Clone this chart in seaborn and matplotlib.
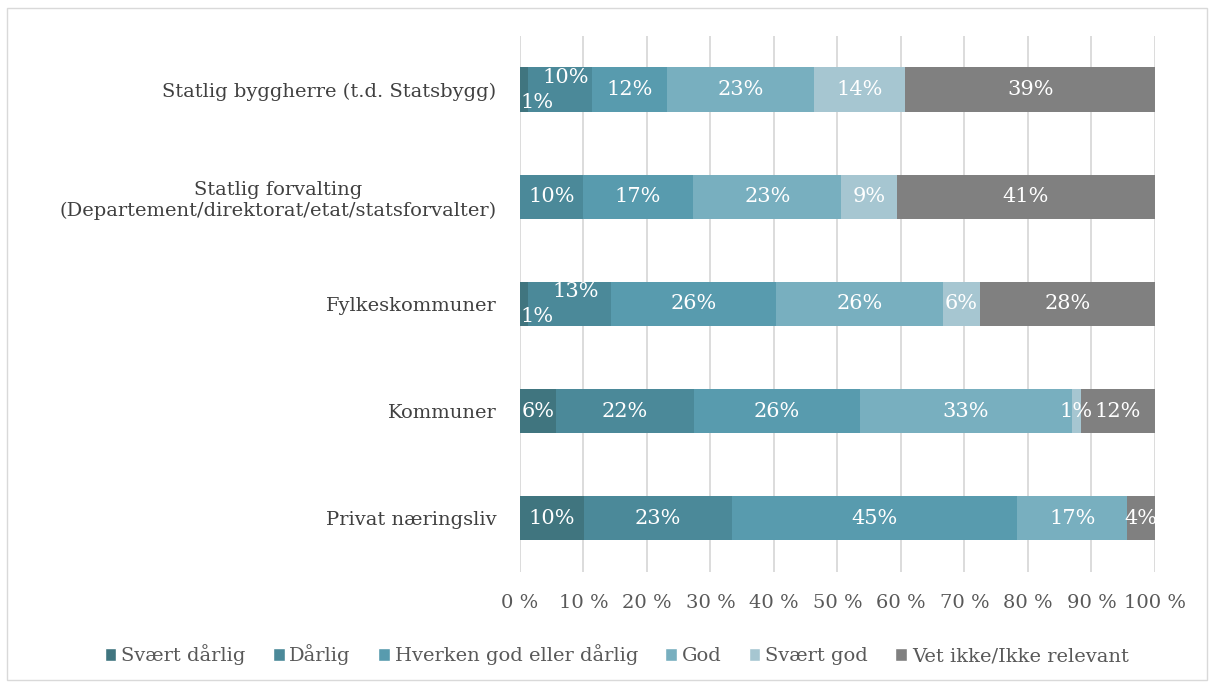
import numpy as np
import pandas as pd
import matplotlib
matplotlib.use("Agg")
import matplotlib.pyplot as plt
from matplotlib.patches import Patch, Rectangle
import seaborn as sns

# Data (shares in %)
categories = [
    "Statlig byggherre (t.d. Statsbygg)",
    "Statlig forvalting\n(Departement/direktorat/etat/statsforvalter)",
    "Fylkeskommuner",
    "Kommuner",
    "Privat næringsliv",
]
series = ["Svært dårlig", "Dårlig", "Hverken god eller dårlig", "God", "Svært god",
          "Vet ikke/Ikke relevant"]
svaert_darlig = [1.2, 0.0, 1.2, 5.7, 10.1]
darlig = [10.1, 9.9, 13.1, 21.7, 23.3]
hverken = [11.8, 17.4, 26.0, 26.1, 44.9]
god = [23.2, 23.3, 26.3, 33.4, 17.3]
svaert_god = [14.4, 8.7, 5.8, 1.4, 0.0]
vet_ikke = [39.3, 40.7, 27.6, 11.7, 4.4]
xtick_labels = [f"{v} %" for v in range(0, 101, 10)]

colors = ["#40757f", "#4b8999", "#589bae", "#78afbf", "#a6c6d1", "#808080"]

values = np.array([svaert_darlig, darlig, hverken, god, svaert_god, vet_ikke])
cum = values.cumsum(axis=0)

sns.set_theme(style="white")
plt.rcParams["font.family"] = ["DejaVu Serif"]

fig = plt.figure(figsize=(12.14, 6.88), dpi=100)
ax = fig.add_axes([0.4283, 0.1693, 0.5231, 0.7777])

# stacked bars: draw cumulative totals from the top layer down
for i in range(len(series) - 1, -1, -1):
    df = pd.DataFrame({"cat": categories, "val": cum[i]})
    sns.barplot(data=df, x="val", y="cat", orient="h", color=colors[i],
                width=0.42, linewidth=0, saturation=1, ax=ax)

# data labels
lab_size = 15
for r in range(len(categories)):
    start = 0.0
    small_prev = False
    for i in range(len(series)):
        v = values[i, r]
        if v <= 0:
            continue
        txt = f"{int(round(v))}%"
        if v < 3 and start == 0:
            ax.text(start + 0.1, r + 0.12, txt, ha="left", va="center",
                    color="white", fontsize=lab_size)
            small_prev = True
        elif small_prev:
            ax.text(start + v / 2 + 1, r - 0.12, txt, ha="center", va="center",
                    color="white", fontsize=lab_size)
            small_prev = False
        else:
            ax.text(start + v / 2, r, txt, ha="center", va="center",
                    color="white", fontsize=lab_size)
        start += v

ax.set_xlim(0, 100)
ax.set_ylim(len(categories) - 0.5, -0.5)
ax.set_xticks(range(0, 101, 10))
ax.set_xticklabels(xtick_labels, fontsize=14, color="#595959")
ax.set_xlabel("")
ax.set_ylabel("")
ax.tick_params(axis="x", length=0, pad=16)
ax.tick_params(axis="y", length=0, pad=17, labelsize=14, labelcolor="#404040")
for lab in ax.get_yticklabels():
    lab.set_multialignment("center")
ax.grid(axis="x", color="#d9d9d9", linewidth=1.3)
ax.set_axisbelow(True)
for s in ax.spines.values():
    s.set_visible(False)

handles = [Patch(facecolor=c, label=s) for c, s in zip(colors, series)]
fig.legend(handles=handles, loc="center", bbox_to_anchor=(0.508, 0.048), ncol=6,
           frameon=False, fontsize=14, handlelength=0.6, handleheight=0.6,
           handletextpad=0.25, columnspacing=1.4, labelcolor="#595959")

fig.patches.append(Rectangle((0.006, 0.012), 0.988, 0.976, transform=fig.transFigure,
                             fill=False, edgecolor="#d9d9d9", linewidth=1))

fig.savefig("out.png", dpi=100)
